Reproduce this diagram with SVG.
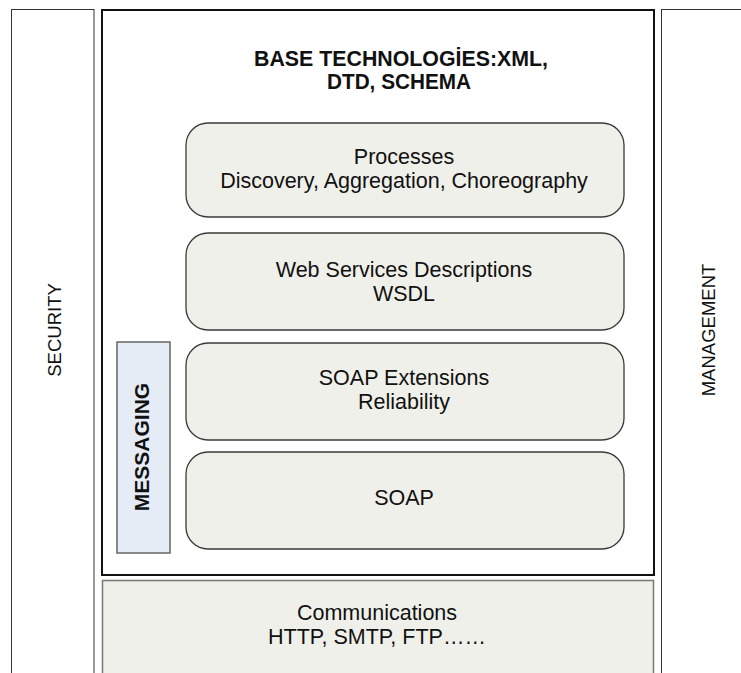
<svg xmlns="http://www.w3.org/2000/svg" width="741" height="673" viewBox="0 0 741 673">
  <style>
    .side { fill: #ffffff; stroke: #333333; stroke-width: 1; }
    .main { fill: #ffffff; stroke: #111111; stroke-width: 2; }
    .layer { fill: #f0f0ea; stroke: #3a3a3a; stroke-width: 1.3; }
    .comm { fill: #f0f0ea; stroke: #777777; stroke-width: 1.5; }
    .msg { fill: #e6ecf5; stroke: #666666; stroke-width: 1.5; }
    text { font-family: "Liberation Sans", Arial, sans-serif; fill: #111111; text-anchor: middle; }
    .body { font-size: 21.5px; }
    .title { font-size: 22.5px; font-weight: bold; }
    .vert { font-size: 18.5px; }
    .vbold { font-size: 21px; font-weight: bold; }
  </style>
  <rect width="741" height="673" fill="#ffffff"/>

  <!-- side columns -->
  <g id="security">
    <rect class="side" x="11.5" y="9.5" width="82.5" height="680"/>
    <text class="vert" transform="translate(61,330) rotate(-90)">SECURITY</text>
  </g>
  <g id="management">
    <rect class="side" x="661.5" y="9.5" width="100" height="680"/>
    <text class="vert" transform="translate(715,330) rotate(-90)">MANAGEMENT</text>
  </g>

  <!-- web services stack frame -->
  <g id="base-technologies">
    <rect class="main" x="102" y="10" width="552" height="565"/>
    <text class="title" x="401" y="66" textLength="294" lengthAdjust="spacingAndGlyphs">BASE TECHNOLOGİES:XML,</text>
    <text class="title" x="399" y="89" textLength="144" lengthAdjust="spacingAndGlyphs">DTD, SCHEMA</text>
  </g>

  <g id="processes">
    <rect class="layer" x="186" y="123" width="438" height="94" rx="22" ry="22"/>
    <text class="body" x="404" y="164">Processes</text>
    <text class="body" x="404" y="188">Discovery, Aggregation, Choreography</text>
  </g>

  <g id="wsdl">
    <rect class="layer" x="186" y="233" width="438" height="97" rx="22" ry="22"/>
    <text class="body" x="404" y="277">Web Services Descriptions</text>
    <text class="body" x="404" y="301">WSDL</text>
  </g>

  <g id="soap-extensions">
    <rect class="layer" x="186" y="343" width="438" height="97" rx="22" ry="22"/>
    <text class="body" x="404" y="385">SOAP Extensions</text>
    <text class="body" x="404" y="409">Reliability</text>
  </g>

  <g id="soap">
    <rect class="layer" x="186" y="452" width="438" height="97" rx="22" ry="22"/>
    <text class="body" x="404" y="505">SOAP</text>
  </g>

  <g id="messaging">
    <rect class="msg" x="117" y="342" width="53" height="211"/>
    <text class="vbold" transform="translate(149,447) rotate(-90)">MESSAGING</text>
  </g>

  <g id="communications">
    <rect class="comm" x="102.5" y="580.5" width="551" height="110"/>
    <text class="body" x="377" y="620">Communications</text>
    <text class="body" x="377" y="644">HTTP, SMTP, FTP……</text>
  </g>

  <g id="connectors"></g>
</svg>
